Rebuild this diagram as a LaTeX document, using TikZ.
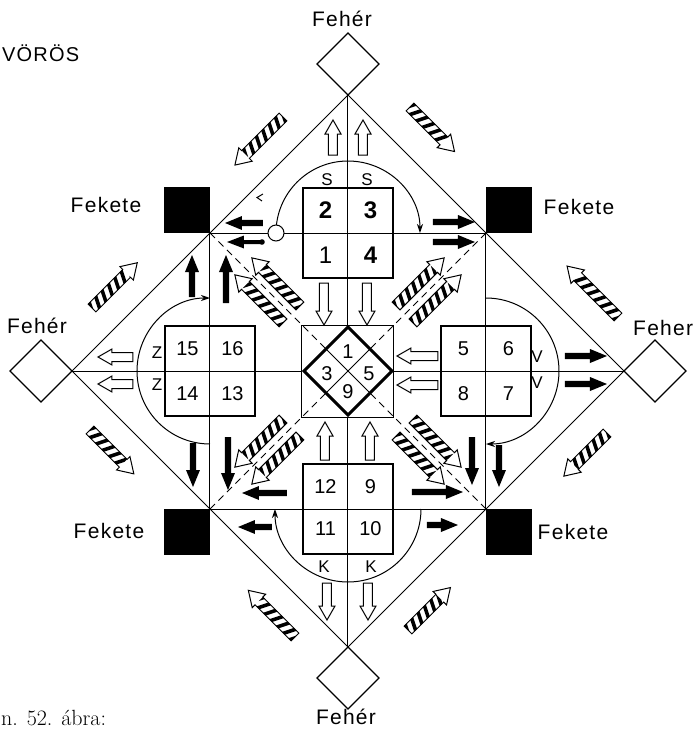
\documentclass[tikz,border=0pt]{standalone}
\usepackage{fontspec}
\usetikzlibrary{arrows.meta,shapes.geometric}
\newfontfamily\labfont[LetterSpace=6.0]{Liberation Sans}
\newfontfamily\numfont{Liberation Sans}
% white (outlined) block arrow: tail, angle, length
\newcommand\WArr[3]{%
 \begin{scope}[shift={#1},rotate=#2]
  \draw[warr] (0,-4.5) -- ({#3-14},-4.5) -- ({#3-14},-8) -- (#3,0) -- ({#3-14},8) -- ({#3-14},4.5) -- (0,4.5) -- cycle;
 \end{scope}}
% black block arrow
\newcommand\BArr[3]{%
 \begin{scope}[shift={#1},rotate=#2]
  \fill (0,-3.2) -- ({#3-17},-3.2) -- ({#3-17},-7) -- (#3,0) -- ({#3-17},7) -- ({#3-17},3.2) -- (0,3.2) -- cycle;
 \end{scope}}
% hatched arrow
\newcommand\HArr[3]{%
 \begin{scope}[shift={#1},rotate=#2]
  \fill[white] (0,-5.5) -- ({#3-15},-5.5) -- ({#3-15},-9.5) -- (#3,0) -- ({#3-15},9.5) -- ({#3-15},5.5) -- (0,5.5) -- cycle;
  \begin{scope}
   \clip (0,-5.5) rectangle ({#3-15},5.5);
   \foreach \k in {-6,3,...,75}{\fill (\k,-6) -- ({\k+4},-6) -- ({\k+10},6) -- ({\k+6},6) -- cycle;}
  \end{scope}
  \draw[hline] (0,-5.5) -- ({#3-15},-5.5) -- ({#3-15},-9.5) -- (#3,0) -- ({#3-15},9.5) -- ({#3-15},5.5) -- (0,5.5) -- cycle;
 \end{scope}}
\begin{document}
\begin{tikzpicture}[x=1pt,y=1pt,
  thinline/.style={line width=1pt},
  boxline/.style={line width=2pt},
  dashdiag/.style={line width=1pt,dash pattern=on 7pt off 5pt},
  warr/.style={draw,line width=1pt,fill=white,line join=miter},
  hline/.style={line width=1pt,line join=miter},
  fekete/.style={fill=black,draw=none,minimum size=46pt,inner sep=0pt,outer sep=0pt},
  feher/.style={diamond,draw,line width=1.3pt,minimum size=62pt,inner sep=0pt,outer sep=0pt},
  cellbox/.style={draw,line width=2pt,minimum size=90pt,inner sep=0pt},
  lab/.style={font=\labfont\fontsize{21}{24}\selectfont,inner sep=0pt},
  numB/.style={font=\numfont\bfseries\fontsize{24}{24}\selectfont,inner sep=0pt},
  numR/.style={font=\numfont\fontsize{24}{24}\selectfont,inner sep=0pt},
  numS/.style={font=\numfont\fontsize{20}{20}\selectfont,inner sep=0pt},
  letS/.style={font=\numfont\fontsize{17}{17}\selectfont,inner sep=0pt},
  arcarrow/.style={thinline,-{Stealth[length=9pt,width=6pt]}}
]
\useasboundingbox (-348,-361) rectangle (345,371);
\fill[white] (-348,-361) rectangle (345,371);

\coordinate (C) at (0,0);
\coordinate (T) at (0,276);
\coordinate (B) at (0,-276);
\coordinate (L) at (-276,0);
\coordinate (R) at (276,0);
\coordinate (TL) at (-138,138);
\coordinate (TR) at (138,138);
\coordinate (BL) at (-138,-138);
\coordinate (BR) at (138,-138);

% big diamond and square
\draw[thinline] (T) -- (R) -- (B) -- (L) -- cycle;
\draw[thinline] (TL) -- (TR) -- (BR) -- (BL) -- cycle;
% cross
\draw[thinline] (T) -- (0,46) (0,-46) -- (B) (L) -- (-46,0) (46,0) -- (R);
% diagonals
\draw[dashdiag] (TL) -- (-23,23) (TR) -- (23,23) (BL) -- (-23,-23) (BR) -- (23,-23);
\draw[thinline] (-22,22) -- (22,-22) (22,22) -- (-22,-22);
% centre square and diamond
\node[draw,thinline,minimum size=92pt,inner sep=0pt] (csq) at (C) {};
\draw[line width=3pt,line join=miter] (0,44) -- (44,0) -- (0,-44) -- (-44,0) -- cycle;

% boxes
\node[cellbox] (boxT) at (0,138) {};
\node[cellbox] (boxR) at (138,0) {};
\node[cellbox] (boxB) at (0,-138) {};
\node[cellbox] (boxL) at (-138,0) {};

% Fekete squares
\node[fekete,anchor=south east] (kTL) at (TL) {};
\node[fekete,anchor=south west] (kTR) at (TR) {};
\node[fekete,anchor=north east] (kBL) at (BL) {};
\node[fekete,anchor=north west] (kBR) at (BR) {};

% Feher diamonds
\node[feher,anchor=south] (hT) at (T) {};
\node[feher,anchor=north] (hB) at (B) {};
\node[feher,anchor=east] (hL) at (L) {};
\node[feher,anchor=west] (hR) at (R) {};

% arcs
\draw[arcarrow] (-72,138) arc[start angle=180,end angle=0,radius=72];
\draw[arcarrow] (138,73) arc[start angle=90,end angle=-90,radius=73];
\draw[arcarrow] (73,-138) arc[start angle=0,end angle=-180,radius=73];
\draw[arcarrow] (-138,-73) arc[start angle=-90,end angle=-270,radius=73];
\node[circle,draw,thinline,fill=white,minimum size=16pt,inner sep=0pt] (ring) at (-72,138) {};
\draw[line width=1pt] (-85,177) -- (-91,173.5) -- (-86,170);

% white arrows
\WArr{(-15,216)}{90}{35}
\WArr{(15,216)}{90}{35}
\WArr{(-24,88)}{-90}{42}
\WArr{(19,88)}{-90}{42}
\WArr{(90,15)}{180}{41}
\WArr{(90,-14)}{180}{41}
\WArr{(-23,-89)}{90}{38}
\WArr{(22,-89)}{90}{38}
\WArr{(-215,14)}{180}{35}
\WArr{(-215,-13)}{180}{35}
\WArr{(-21,-212)}{-90}{37}
\WArr{(20,-212)}{-90}{37}

% black arrows
\BArr{(-85,148)}{180}{38}
\begin{scope}[shift={(-86,129)},rotate=180]
 \fill (0,-2) -- (18,-2) -- (18,-6.5) -- (35,0) -- (18,6.5) -- (18,2) -- (0,2) -- cycle;
 \fill (0,0) circle (2.8);
\end{scope}
\BArr{(85,149)}{0}{42}
\BArr{(85,129)}{0}{42}
\BArr{(-156,74)}{90}{42}
\BArr{(-122,68)}{90}{48}
\BArr{(-155,-72)}{-90}{44}
\BArr{(-120,-66)}{-90}{53}
\BArr{(-61,-122)}{180}{45}
\BArr{(-76,-156)}{180}{34}
\BArr{(64,-121)}{0}{51}
\BArr{(79,-154)}{0}{31}
\BArr{(124,-66)}{-90}{48}
\BArr{(151,-74)}{-90}{42}
\BArr{(217,15)}{0}{42}
\BArr{(217,-13)}{0}{42}

% hatched arrows, inner pairs
\foreach \a in {45,135,225,315}{
 \begin{scope}[rotate=\a]
  \HArr{(80,12)}{0}{68}
  \HArr{(80,-12)}{0}{68}
 \end{scope}}
% hatched arrows, outer
\HArr{(-65,254)}{225}{68}
\HArr{(62,264)}{315}{63}
\HArr{(-256,63)}{45}{64}
\HArr{(-258,-59)}{315}{62}
\HArr{(270,54)}{135}{72}
\HArr{(259,-62)}{225}{61}
\HArr{(-53,-266)}{135}{66}
\HArr{(60,-259)}{45}{60}

% numbers
\node[numB] (c2) at (-22.5,160.5) {2};
\node[numB] (c3) at (22.5,160.5) {3};
\node[numR] (c1) at (-22.5,115.5) {1};
\node[numB] (c4) at (22.5,115.5) {4};
\node[numS] (c15) at (-160.5,22.5) {15};
\node[numS] (c16) at (-115.5,22.5) {16};
\node[numS] (c14) at (-160.5,-22.5) {14};
\node[numS] (c13) at (-115.5,-22.5) {13};
\node[numS] (c5) at (115.5,22.5) {5};
\node[numS] (c6) at (160.5,22.5) {6};
\node[numS] (c8) at (115.5,-22.5) {8};
\node[numS] (c7) at (160.5,-22.5) {7};
\node[numS] (c12) at (-22.5,-116) {12};
\node[numS] (c9) at (22.5,-116) {9};
\node[numS] (c11) at (-22.5,-158) {11};
\node[numS] (c10) at (22.5,-158) {10};
\node[numS] (m1) at (0,19) {1};
\node[numS] (m9) at (0,-21) {9};
\node[numS] (m3) at (-21,-3) {3};
\node[numS] (m5) at (21,-3) {5};

% letters
\node[letS] (s1) at (-21,191) {S};
\node[letS] (s2) at (19,191) {S};
\node[letS] (z1) at (-191,18) {Z};
\node[letS] (z2) at (-191,-14) {Z};
\node[letS] (v1) at (189,14) {V};
\node[letS] (v2) at (189,-12) {V};
\node[letS] (k1) at (-24,-196) {K};
\node[letS] (k2) at (23,-196) {K};

% labels
\node[lab] (lT) at (-6,352) {Fehér};
\node[lab] (lL) at (-311,45) {Fehér};
\node[lab,anchor=west] (lR) at (285,43) {Feher};
\node[lab] (lB) at (-2,-346) {Fehér};
\node[lab] (fTL) at (-242,166) {Fekete};
\node[lab] (fTR) at (231,164) {Fekete};
\node[lab] (fBL) at (-239,-160) {Fekete};
\node[lab] (fBR) at (225,-161) {Fekete};
\node[lab,anchor=west,font=\labfont\fontsize{20}{24}\selectfont] (vor) at (-346,318) {VÖRÖS};
\node[anchor=base west,inner sep=0pt,font=\fontsize{22}{24}\selectfont] (cap) at (-347,-354) {n. 52. ábra:};
\end{tikzpicture}
\end{document}
